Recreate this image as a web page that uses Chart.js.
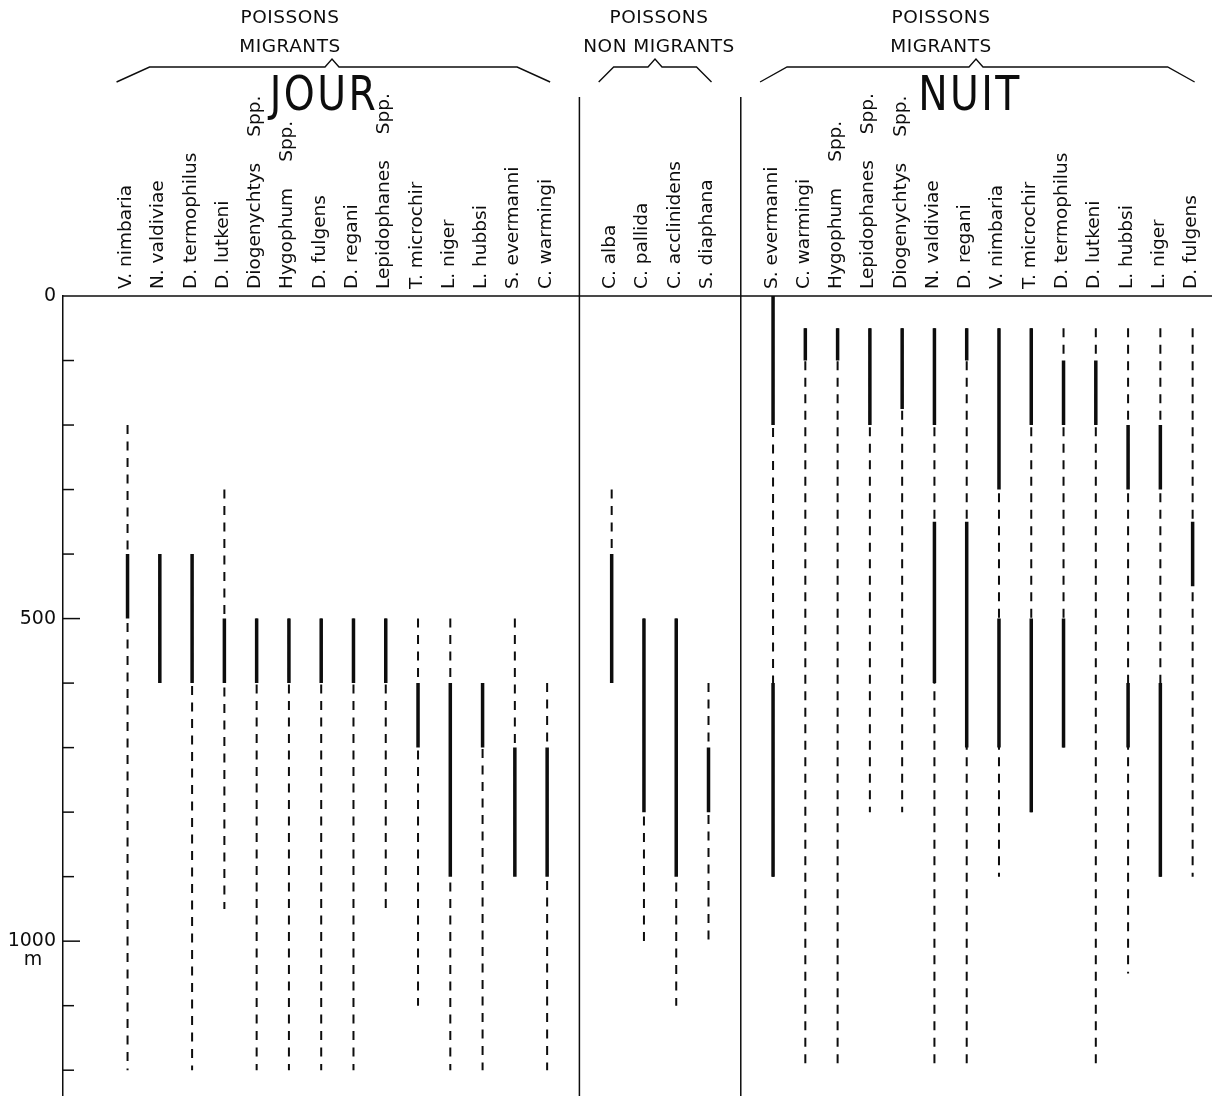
<!DOCTYPE html>
<html>
<head>
<meta charset="utf-8">
<title>Répartition verticale des Myctophidae</title>
<script src="https://cdn.jsdelivr.net/npm/chart.js@4/dist/chart.umd.min.js"></script>
<style>
  html, body { margin: 0; padding: 0; background: #fff; }
  canvas { display: block; }
</style>
</head>
<body>
<canvas id="chart" width="1212" height="1096"></canvas>
<script>
// Vertical distribution (depth in m) of fish species by day and by night.
// Each species: full depth range where it occurs (dashed line) and
// depth ranges of main abundance (solid line).

// --- Day, migrating species ---
const dayNames = ['V. nimbaria', 'N. valdiviae', 'D. termophilus', 'D. lutkeni',
  'Diogenychtys Spp.', 'Hygophum Spp.', 'D. fulgens', 'D. regani',
  'Lepidophanes Spp.', 'T. microchir', 'L. niger', 'L. hubbsi',
  'S. evermanni', 'C. warmingi'];
const dayRange = [[200, 1200], [400, 600], [400, 1200], [300, 950],
  [500, 1200], [500, 1200], [500, 1200], [500, 1200],
  [500, 950], [500, 1100], [500, 1200], [600, 1200],
  [500, 900], [600, 1200]];
const dayCore = [[[400, 500]], [[400, 600]], [[400, 600]], [[500, 600]],
  [[500, 600]], [[500, 600]], [[500, 600]], [[500, 600]],
  [[500, 600]], [[600, 700]], [[600, 900]], [[600, 700]],
  [[700, 900]], [[700, 900]]];

// --- Non migrating species ---
const residentNames = ['C. alba', 'C. pallida', 'C. acclinidens', 'S. diaphana'];
const residentRange = [[300, 600], [500, 1000], [500, 1100], [600, 1000]];
const residentCore = [[[400, 600]], [[500, 800]], [[500, 900]], [[700, 800]]];

// --- Night, migrating species ---
const nightNames = ['S. evermanni', 'C. warmingi', 'Hygophum Spp.',
  'Lepidophanes Spp.', 'Diogenychtys Spp.', 'N. valdiviae', 'D. regani',
  'V. nimbaria', 'T. microchir', 'D. termophilus', 'D. lutkeni',
  'L. hubbsi', 'L. niger', 'D. fulgens'];
const nightRange = [[0, 900], [50, 1200], [50, 1200],
  [50, 800], [50, 800], [50, 1200], [50, 1200],
  [50, 900], [50, 800], [50, 700], [50, 1200],
  [50, 1050], [50, 900], [50, 900]];
const nightCore = [[[0, 200], [600, 900]], [[50, 100]], [[50, 100]],
  [[50, 200]], [[50, 175]], [[50, 200], [350, 600]], [[50, 100], [350, 700]],
  [[50, 300], [500, 700]], [[50, 200], [500, 800]], [[100, 200], [500, 700]], [[100, 200]],
  [[200, 300], [600, 700]], [[200, 300], [600, 900]], [[350, 450]]];

// --- Header texts and depth axis ---
const groupTitles = [['POISSONS', 'MIGRANTS'], ['POISSONS', 'NON MIGRANTS'], ['POISSONS', 'MIGRANTS']];
const periodTitles = ['JOUR', '', 'NUIT'];
const depthLabels = [0, 500, 1000];
const depthUnit = 'm';

const groups = [
  { names: dayNames, range: dayRange, core: dayCore },
  { names: residentNames, range: residentRange, core: residentCore },
  { names: nightNames, range: nightRange, core: nightCore }
];

// Column slots: one empty slot between consecutive groups.
let slot = 0;
groups.forEach((g, gi) => {
  if (gi > 0) slot += 1;
  g.first = slot;
  g.cols = g.names.map(() => slot++);
  g.last = slot - 1;
});

const INK = '#0d0d0d';
const datasets = [];
groups.forEach(g => {
  g.names.forEach((name, i) => {
    const x = g.cols[i];
    const [top, bottom] = g.range[i];
    datasets.push({
      label: name + ' (occurrence)',
      data: [{ x, y: top }, { x, y: bottom }],
      borderColor: INK, borderWidth: 2, borderDash: [9, 7.5],
      pointRadius: 0, showLine: true, order: 2
    });
    g.core[i].forEach(([a, b]) => {
      datasets.push({
        label: name + ' (abondance)',
        data: [{ x, y: a }, { x, y: b }],
        borderColor: INK, borderWidth: 3.5,
        pointRadius: 0, showLine: true, order: 1
      });
    });
  });
});

// Decorations: group headers, brackets, species names, inner depth ticks.
const decor = {
  id: 'decor',
  afterDraw(chart) {
    const { ctx, chartArea: area, scales: { x, y } } = chart;
    const px = v => x.getPixelForValue(v);
    ctx.save();
    ctx.strokeStyle = INK;
    ctx.fillStyle = INK;
    ctx.lineCap = 'butt';

    // surface line (0 m)
    const y0 = y.getPixelForValue(0);
    ctx.lineWidth = 1.5;
    ctx.beginPath();
    ctx.moveTo(area.left, y0);
    ctx.lineTo(area.right, y0);
    ctx.stroke();

    // depth ticks pointing into the plot
    for (let d = 100; d <= 1200; d += 100) {
      const py = y.getPixelForValue(d);
      const len = d % 500 === 0 ? 17 : 11;
      ctx.beginPath();
      ctx.moveTo(area.left, py);
      ctx.lineTo(area.left + len, py);
      ctx.stroke();
    }

    // unit under the 1000 m label
    ctx.font = '19px "DejaVu Sans"';
    ctx.textAlign = 'center';
    ctx.textBaseline = 'alphabetic';
    ctx.fillText(depthUnit, 33, y.getPixelForValue(1000) + 24);

    // separators between groups
    ctx.lineWidth = 1.5;
    for (let gi = 1; gi < groups.length; gi++) {
      const sx = px((groups[gi - 1].last + groups[gi].first) / 2);
      ctx.beginPath();
      ctx.moveTo(sx, 97);
      ctx.lineTo(sx, area.bottom);
      ctx.stroke();
    }

    // species names, written bottom to top
    ctx.font = '18.5px "DejaVu Sans"';
    ctx.textAlign = 'left';
    ctx.textBaseline = 'alphabetic';
    groups.forEach(g => {
      g.names.forEach((name, i) => {
        ctx.save();
        ctx.translate(px(g.cols[i]) + 3.5, y0 - 7);
        ctx.rotate(-Math.PI / 2);
        const m = name.match(/^(.*) (Spp\.)$/);
        if (m) {
          ctx.fillText(m[1], 0, 0);
          ctx.fillText(m[2], ctx.measureText(m[1]).width + 26, 0);
        } else {
          ctx.fillText(name, 0, 0);
        }
        ctx.restore();
      });
    });

    // group headers and brackets
    const heads = [
      { tx: 290, peak: 332, left: px(groups[0].first) - 11, right: px(groups[0].last) + 3, rise: 33, big: 324 },
      { tx: 659, peak: 655, left: px(groups[1].first) - 13, right: px(groups[1].last) + 3, rise: 15, big: 0 },
      { tx: 941, peak: 976, left: px(groups[2].first) - 13, right: px(groups[2].last) + 2, rise: 27, big: 970 }
    ];
    heads.forEach((h, gi) => {
      ctx.font = '18.5px "DejaVu Sans"';
      ctx.letterSpacing = '0.5px';
      ctx.textAlign = 'center';
      ctx.fillText(groupTitles[gi][0], h.tx, 23);
      ctx.fillText(groupTitles[gi][1], h.tx, 52);
      ctx.letterSpacing = '0px';

      ctx.lineWidth = 1.4;
      ctx.beginPath();
      ctx.moveTo(h.left, 82);
      ctx.lineTo(h.left + h.rise, 67);
      ctx.lineTo(h.peak - 7, 67);
      ctx.lineTo(h.peak, 59);
      ctx.lineTo(h.peak + 7, 67);
      ctx.lineTo(h.right - h.rise, 67);
      ctx.lineTo(h.right, 82);
      ctx.stroke();

      if (periodTitles[gi]) {
        ctx.save();
        ctx.translate(h.big, 110);
        ctx.scale(0.82, 1);
        ctx.font = '48px "DejaVu Sans"';
        ctx.letterSpacing = '3px';
        ctx.textAlign = 'center';
        ctx.fillText(periodTitles[gi], 0, 0);
        ctx.restore();
      }
    });
    ctx.restore();
  }
};

new Chart(document.getElementById('chart'), {
  type: 'scatter',
  data: { datasets },
  options: {
    responsive: false,
    devicePixelRatio: 1,
    animation: false,
    layout: { padding: { top: 296, right: 0, bottom: 0, left: 0 } },
    plugins: { legend: { display: false }, tooltip: { enabled: false } },
    scales: {
      x: { type: 'linear', min: -2, max: 33.6, display: false },
      y: {
        type: 'linear', reverse: true, min: 0, max: 1240,
        grid: { display: false, drawTicks: false },
        border: { display: true, color: INK, width: 1.5 },
        ticks: {
          stepSize: 100, padding: 7, color: INK,
          font: { family: 'DejaVu Sans', size: 19 },
          callback: v => depthLabels.includes(v) ? String(v) : ''
        },
        afterFit(scale) {
          scale.width = 63;
          scale.paddingTop = 0;
          scale.paddingBottom = 0;
        }
      }
    }
  },
  plugins: [decor]
});
</script>
</body>
</html>
